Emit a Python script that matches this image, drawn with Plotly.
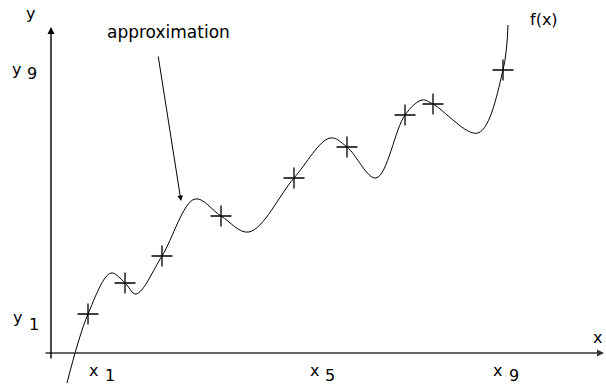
import plotly.graph_objects as go

# sample points (data units)
px_pts = [0.74, 1.48, 2.22, 3.40, 4.86, 5.92, 7.08, 7.64, 9.04]
py_pts = [0.78, 1.40, 1.94, 2.74, 3.50, 4.12, 4.76, 4.98, 5.66]

# approximating curve f(x)
cx = [0.32, 0.74, 1.20, 1.48, 1.70, 2.22, 2.88, 3.40, 3.96, 4.86, 5.58, 5.92, 6.50, 7.08, 7.42, 7.64, 8.54, 9.04, 9.14]
cy = [-0.60, 0.78, 1.60, 1.40, 1.18, 1.94, 3.08, 2.74, 2.42, 3.50, 4.30, 4.12, 3.50, 4.76, 5.06, 4.98, 4.40, 5.66, 6.56]

FONT = "DejaVu Sans"
fig = go.Figure()
fig.add_trace(go.Scatter(x=cx, y=cy, mode="lines", line=dict(color="black", width=1, shape="spline", smoothing=1.0),
                         hoverinfo="skip"))
fig.add_trace(go.Scatter(x=px_pts, y=py_pts, mode="markers",
                         marker=dict(symbol="cross-thin", size=15, line=dict(color="black", width=1.3)),
                         hoverinfo="skip"))

ann = []
# axes with arrows
ann.append(dict(x=11.06, y=0, ax=-0.14, ay=0, xref="x", yref="y", axref="x", ayref="y", text="",
                showarrow=True, arrowhead=2, arrowsize=1, arrowwidth=1.4, arrowcolor="#333"))
ann.append(dict(x=0, y=6.52, ax=0, ay=-0.14, xref="x", yref="y", axref="x", ayref="y", text="",
                showarrow=True, arrowhead=2, arrowsize=1, arrowwidth=1.4, arrowcolor="black"))
# approximation arrow
ann.append(dict(x=2.6, y=3.04, ax=2.14, ay=5.96, xref="x", yref="y", axref="x", ayref="y", text="",
                showarrow=True, arrowhead=2, arrowsize=1.1, arrowwidth=1, arrowcolor="black"))

def txt(x, y, s, size=16):
    ann.append(dict(x=x, y=y, xref="x", yref="y", text=s, showarrow=False,
                    font=dict(family=FONT, size=size, color="black"), xanchor="center", yanchor="middle"))

txt(-0.42, 6.80, "y")
txt(-0.70, 5.68, "y")
txt(-0.38, 5.60, "9")
txt(-0.68, 0.72, "y")
txt(-0.35, 0.58, "1")
txt(0.85, -0.34, "x")
txt(1.17, -0.44, "1")
txt(5.27, -0.34, "x")
txt(5.58, -0.44, "5")
txt(8.93, -0.34, "x")
txt(9.25, -0.44, "9")
txt(10.92, 0.32, "x")
txt(9.86, 6.68, "f(x)")
txt(2.34, 6.42, "approximation", 17)

fig.update_layout(
    width=606, height=385, margin=dict(l=0, r=0, t=0, b=0),
    plot_bgcolor="white", paper_bgcolor="white", showlegend=False,
    xaxis=dict(range=[-1.02, 11.1], visible=False),
    yaxis=dict(range=[-0.64, 7.06], visible=False),
    annotations=ann,
)
fig.write_html("out.html")
